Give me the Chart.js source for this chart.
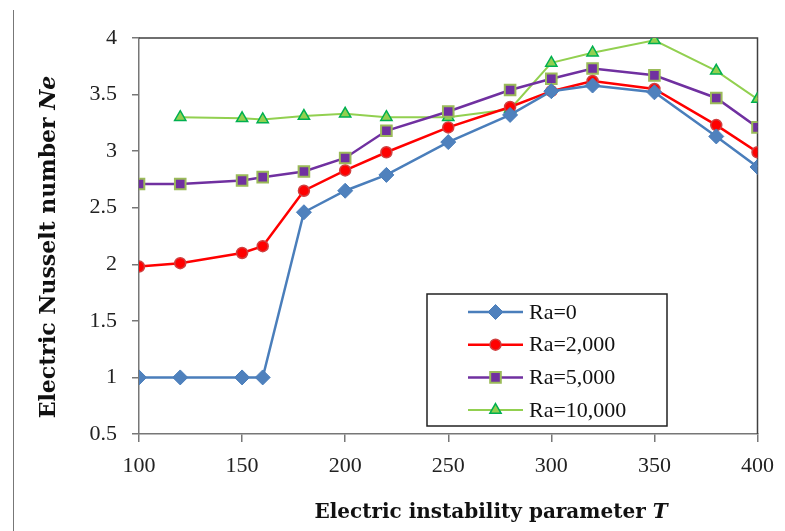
<!DOCTYPE html>
<html>
<head>
<meta charset="utf-8">
<script src="https://cdn.jsdelivr.net/npm/chart.js@4/dist/chart.umd.min.js"></script>
<style>
  html, body { margin: 0; padding: 0; background: #fff; }
  #wrap { position: relative; width: 785px; height: 531px; }
  #edge { position: absolute; left: 13px; top: 10px; bottom: 0; border-left: 1px solid #777; }
</style>
</head>
<body>
<div id="wrap">
  <canvas id="neChart" width="785" height="531"></canvas>
  <div id="edge"></div>
</div>
<script>
  var T = [100, 120, 150, 160, 180, 200, 220, 250, 280, 300, 320, 350, 380, 400];
  var ra0     = [1, 1, 1, 1, 2.46, 2.65, 2.79, 3.08, 3.32, 3.53, 3.58, 3.52, 3.13, 2.86];
  var ra2000  = [1.98, 2.01, 2.10, 2.16, 2.65, 2.83, 2.99, 3.21, 3.39, 3.53, 3.62, 3.55, 3.23, 2.99];
  var ra5000  = [2.71, 2.71, 2.74, 2.77, 2.82, 2.94, 3.18, 3.35, 3.54, 3.64, 3.73, 3.67, 3.47, 3.21];
  var ra10000 = [null, 3.30, 3.29, 3.28, 3.31, 3.33, 3.30, 3.30, 3.37, 3.78, 3.87, 3.98, 3.71, 3.46];
  var yTicks = [0.5, 1, 1.5, 2, 2.5, 3, 3.5, 4];
  var xTicks = [100, 150, 200, 250, 300, 350, 400];

  function pts(ys) {
    var out = [];
    for (var i = 0; i < T.length; i++) {
      if (ys[i] !== null) out.push({x: T[i], y: ys[i]});
    }
    return out;
  }

  var serif = "'Liberation Serif', serif";
  var tickFont = {family: serif, size: 22};
  var titleFamily = "'DejaVu Serif', serif";

  // box round the plot area
  var frame = {
    id: 'frame',
    beforeDatasetsDraw: function(chart) {
      var a = chart.chartArea, ctx = chart.ctx;
      ctx.save();
      ctx.strokeStyle = '#404040';
      ctx.lineWidth = 1.5;
      ctx.beginPath();
      ctx.moveTo(a.left, a.top);
      ctx.lineTo(a.right, a.top);
      ctx.lineTo(a.right, a.bottom);
      ctx.stroke();
      ctx.restore();
    }
  };

  // axis titles with the italic symbol
  function mixedText(ctx, parts, cx, cy) {
    var total = 0;
    parts.forEach(function(p) { ctx.font = p.font; total += ctx.measureText(p.text).width; });
    var x = cx - total / 2;
    parts.forEach(function(p) {
      ctx.font = p.font;
      ctx.fillText(p.text, x, cy);
      x += ctx.measureText(p.text).width;
    });
  }
  var titles = {
    id: 'titles',
    afterDraw: function(chart) {
      var ctx = chart.ctx, a = chart.chartArea;
      ctx.save();
      ctx.fillStyle = '#111';
      ctx.textBaseline = 'middle';
      ctx.textAlign = 'left';
      mixedText(ctx, [{text: 'Electric instability parameter ', font: 'bold 20px ' + titleFamily},
                      {text: 'T', font: 'italic bold 20px ' + titleFamily}],
        491, a.bottom + 79);
      ctx.translate(49, 247);
      ctx.rotate(-Math.PI / 2);
      mixedText(ctx, [{text: 'Electric Nusselt number ', font: 'bold 22px ' + titleFamily},
                      {text: 'Ne', font: 'italic bold 22px ' + titleFamily}], 0, 0);
      ctx.restore();
    }
  };

  // legend box inside the plot
  var boxLegend = {
    id: 'boxLegend',
    afterDraw: function(chart) {
      var ctx = chart.ctx, a = chart.chartArea;
      var bx = a.left + 288, by = a.top + 256, bw = 240, bh = 132;
      ctx.save();
      ctx.fillStyle = '#fff';
      ctx.fillRect(bx, by, bw, bh);
      ctx.strokeStyle = '#222';
      ctx.lineWidth = 1.5;
      ctx.strokeRect(bx, by, bw, bh);
      chart.data.datasets.forEach(function(ds, i) {
        var y = by + 18 + i * 32.7;
        ctx.strokeStyle = ds.borderColor;
        ctx.lineWidth = ds.borderWidth;
        ctx.beginPath();
        ctx.moveTo(bx + 41, y);
        ctx.lineTo(bx + 96, y);
        ctx.stroke();
        ctx.fillStyle = ds.pointBackgroundColor;
        ctx.strokeStyle = ds.pointBorderColor;
        ctx.lineWidth = ds.pointBorderWidth;
        Chart.helpers.drawPoint(ctx, {pointStyle: ds.pointStyle, radius: ds.pointRadius, rotation: 0,
          borderWidth: ds.pointBorderWidth}, bx + 68.5, y);
        ctx.fillStyle = '#111';
        ctx.font = '22px ' + serif;
        ctx.textBaseline = 'middle';
        ctx.fillText(ds.label, bx + 102, y + 1);
      });
      ctx.restore();
    }
  };

  var ctx = document.getElementById('neChart').getContext('2d');
  var myChart = new Chart(ctx, {
    type: 'line',
    data: {
      datasets: [{
        label: 'Ra=0',
        data: pts(ra0),
        borderColor: '#4a7ebb',
        borderWidth: 2.5,
        pointStyle: 'rectRot',
        pointRadius: 7.5,
        pointBackgroundColor: '#4f81bd',
        pointBorderColor: '#4a7ebb',
        pointBorderWidth: 1
      }, {
        label: 'Ra=2,000',
        data: pts(ra2000),
        borderColor: '#ff0000',
        borderWidth: 2.5,
        pointStyle: 'circle',
        pointRadius: 5.5,
        pointBackgroundColor: '#ff0000',
        pointBorderColor: '#d04040',
        pointBorderWidth: 1.5
      }, {
        label: 'Ra=5,000',
        data: pts(ra5000),
        borderColor: '#7030a0',
        borderWidth: 2.5,
        pointStyle: 'rect',
        pointRadius: 7.5,
        pointBackgroundColor: '#7030a0',
        pointBorderColor: '#9bbb59',
        pointBorderWidth: 2
      }, {
        label: 'Ra=10,000',
        data: pts(ra10000),
        borderColor: '#92d050',
        borderWidth: 2,
        pointStyle: 'triangle',
        pointRadius: 6.5,
        pointBackgroundColor: '#92d050',
        pointBorderColor: '#00b050',
        pointBorderWidth: 1.5
      }]
    },
    options: {
      responsive: false,
      animation: false,
      events: [],
      layout: { padding: { left: 0, top: 38, right: 23, bottom: 0 } },
      plugins: {
        legend: { display: false },
        tooltip: { enabled: false }
      },
      scales: {
        x: {
          type: 'linear',
          min: 100,
          max: 400,
          afterBuildTicks: function(axis) {
            axis.ticks = xTicks.map(function(v) { return {value: v}; });
          },
          afterFit: function(axis) { axis.height = 97; },
          grid: { display: true, drawOnChartArea: false, drawTicks: true, tickLength: 8, color: '#777', lineWidth: 1.5 },
          border: { display: true, color: '#777', width: 1.5 },
          ticks: { font: tickFont, color: '#222', padding: 11, maxRotation: 0 }
        },
        y: {
          min: 0.5,
          max: 4,
          afterBuildTicks: function(axis) {
            axis.ticks = yTicks.map(function(v) { return {value: v}; });
          },
          afterFit: function(axis) { axis.width = 139; },
          grid: { display: true, drawOnChartArea: false, drawTicks: true, tickLength: 7, color: '#777', lineWidth: 1.5 },
          border: { display: true, color: '#777', width: 1.5 },
          ticks: { font: tickFont, color: '#222', padding: 15, callback: function(v) { return String(v); } }
        }
      }
    },
    plugins: [frame, titles, boxLegend]
  });
</script>
</body>
</html>
